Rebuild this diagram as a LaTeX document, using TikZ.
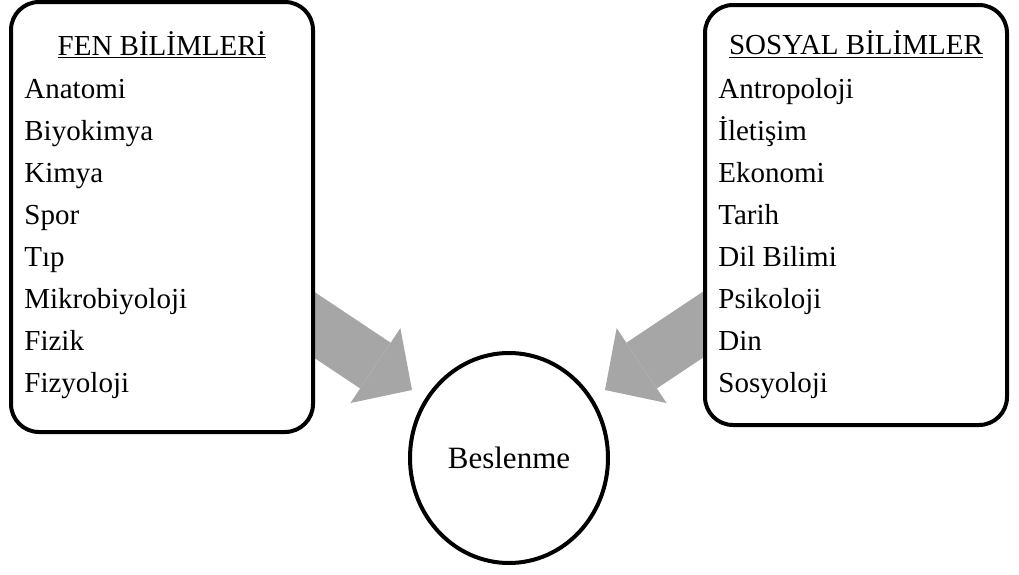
\documentclass[tikz,border=0pt]{standalone}
\usepackage{fontspec}
\setmainfont{Liberation Serif}
\usetikzlibrary{shapes.geometric, arrows.meta, calc, backgrounds}
\definecolor{okgri}{RGB}{166,166,166}

\begin{document}
\begin{tikzpicture}[x=0.5pt, y=-0.5pt,
	panel/.style={draw, line width=2pt, rounded corners=14pt, fill=white, minimum width=151pt, inner sep=0pt},
	baslik/.style={anchor=base, inner sep=0pt, font=\fontsize{14.5}{17}\selectfont},
	madde/.style={anchor=base west, inner sep=0pt, font=\fontsize{14.5}{17}\selectfont},
	okgrup/.style={draw=okgri, line width=27.5pt, -{Triangle[length=22pt, width=45pt, line width=0pt]}}]
		\useasboundingbox (0,0) rectangle (1019,574);

		\node[panel, minimum height=215pt] (Fen) at (162,217) {};
		\node[panel, minimum height=210pt] (Sosyal) at (856,215) {};
		\node[draw, ellipse, line width=2pt, inner sep=0pt, minimum width=99pt, minimum height=105pt,
			font=\fontsize{15.5}{18}\selectfont] (Beslenme) at (509,458) {Beslenme};

		% fen bilimleri
		\node[baslik] (Fen baslik) at (162,55) {\underline{FEN BİLİMLERİ}};
		\node[madde] (Anatomi) at (24,98) {Anatomi};
		\node[madde] (Biyokimya) at (24,140) {Biyokimya};
		\node[madde] (Kimya) at (24,182) {Kimya};
		\node[madde] (Spor) at (24,224) {Spor};
		\node[madde] (Tip) at (24,266) {Tıp};
		\node[madde] (Mikrobiyoloji) at (24,308) {Mikrobiyoloji};
		\node[madde] (Fizik) at (24,350) {Fizik};
		\node[madde] (Fizyoloji) at (24,392) {Fizyoloji};

		% sosyal bilimler
		\node[baslik] (Sosyal baslik) at (856,54) {\underline{SOSYAL BİLİMLER}};
		\node[madde] (Antropoloji) at (718,98) {Antropoloji};
		\node[madde] (Iletisim) at (718,140) {İletişim};
		\node[madde] (Ekonomi) at (718,182) {Ekonomi};
		\node[madde] (Tarih) at (718,224) {Tarih};
		\node[madde] (Dil Bilimi) at (718,266) {Dil Bilimi};
		\node[madde] (Psikoloji) at (718,308) {Psikoloji};
		\node[madde] (Din) at (718,350) {Din};
		\node[madde] (Sosyoloji) at (718,392) {Sosyoloji};

		\begin{scope}[on background layer]
			\draw[okgrup] ($(Fen.east)+(-23,93)$) to ($(Beslenme)+(-97,-68)$);
			\draw[okgrup] ($(Sosyal.west)+(22,95)$) to ($(Beslenme)+(96,-68)$);
		\end{scope}
	\end{tikzpicture}
\end{document}
